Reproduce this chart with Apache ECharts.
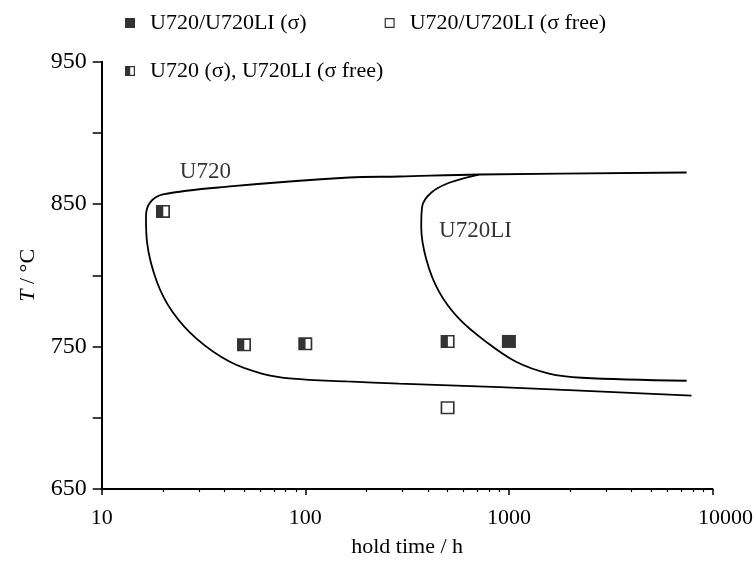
<!DOCTYPE html>
<html>
<head>
<meta charset="utf-8">
<script src="https://cdn.jsdelivr.net/npm/echarts@6/dist/echarts.min.js"></script>
<style>
html,body{margin:0;padding:0;background:#fff;}
#chart{width:756px;height:563px;}
</style>
</head>
<body>
<div id="chart"></div>
<script>
// ---- data ----
const xTickLabels = [10, 100, 1000, 10000];
const xMinorTicks = [20,30,40,50,60,70,80,90,200,300,400,500,600,700,800,900,2000,3000,4000,5000,6000,7000,8000,9000];
const yTickLabels = [650, 750, 850, 950];

// U720 boundary curve (hold time h, temperature C)
const u720Time = [7465, 713, 289, 164, 42.6, 20.0, 17.3, 16.5, 16.7, 18.7, 22.3, 29.3, 42.6, 61.7, 86.5, 160, 289, 900, 7890];
const u720Temp = [872.2, 870.8, 869.4, 868.7, 862.4, 856.8, 851.2, 841.4, 823.2, 795.2, 774.3, 755.4, 739.3, 730.9, 727.5, 725.5, 724.0, 721.5, 715.5];

// U720LI boundary curve
const u720liTime = [713, 509, 415, 375, 371, 393, 455, 570, 773, 1084, 1574, 2282, 7465];
const u720liTemp = [870.8, 865.0, 858.0, 848.3, 834.3, 811.2, 788.2, 769.4, 753.3, 739.3, 731.0, 728.1, 726.0];

// experimental points
const sigmaTime = [1000];
const sigmaTemp = [753.6];
const freeTime = [500];
const freeTemp = [707];
const mixedTime = [20, 50, 100, 500];
const mixedTemp = [844.9, 751.2, 751.9, 753.6];

// curve annotations
const curveLabelNames = ['U720', 'U720LI'];
const curveLabelTime = [24.2, 454];
const curveLabelTemp = [872.6, 831.1];

const legendNames = ['U720/U720LI (σ)', 'U720/U720LI (σ free)', 'U720 (σ), U720LI (σ free)'];

// ---- build ----
const zip = (a, b) => a.map((v, i) => [v, b[i]]);
const FONT = 'Liberation Serif';
const filledPath = 'path://M0,0H100V100H0Z';
const openPath = 'path://M0,0H100V100H0Z M12,12V88H88V12Z';
const halfPath = 'path://M0,0H100V100H0Z M52,12V88H88V12Z';

const chart = echarts.init(document.getElementById('chart'));
const legendText = { fontFamily: FONT, fontSize: 22, color: '#000' };
const option = {
  animation: false,
  backgroundColor: '#fff',
  textStyle: { fontFamily: FONT, color: '#000' },
  grid: { left: 101.7, right: 42, top: 61.7, bottom: 72.3, containLabel: false },
  legend: [
    {
      data: [{ name: legendNames[0], icon: filledPath }, { name: legendNames[1], icon: openPath }],
      left: 125, top: 12, padding: 0, itemWidth: 30, itemHeight: 10, itemGap: 78, symbolKeepAspect: true,
      textStyle: legendText, selectedMode: false
    },
    {
      data: [{ name: legendNames[2], icon: halfPath }],
      left: 125, top: 60, padding: 0, itemWidth: 30, itemHeight: 10, symbolKeepAspect: true,
      textStyle: legendText, selectedMode: false
    }
  ],
  xAxis: [
    {
      type: 'log', logBase: 10, min: 10, max: 10000,
      name: 'hold time / h', nameLocation: 'middle', nameGap: 47,
      nameTextStyle: { fontFamily: FONT, fontSize: 22, color: '#000' },
      axisLine: { show: true, lineStyle: { color: '#000', width: 2 } },
      axisTick: { show: true, inside: false, length: 6, lineStyle: { color: '#000', width: 1.5 } },
      axisLabel: { fontFamily: FONT, fontSize: 22, color: '#000', margin: 18,
        customValues: xTickLabels,
        formatter: v => { const s = String(Math.round(v)); return s === '10000' ? '{r|' + s + '}' : s; },
        rich: { r: { fontFamily: FONT, fontSize: 22, color: '#000', padding: [0, 0, 0, 26] } } },
      splitLine: { show: false }
    },
    {
      type: 'log', logBase: 10, min: 10, max: 10000, position: 'bottom',
      axisLine: { show: false },
      axisTick: { show: true, inside: false, length: 3, customValues: xMinorTicks, lineStyle: { color: '#000', width: 1.2 } },
      axisLabel: { show: false },
      splitLine: { show: false }
    }
  ],
  yAxis: {
    type: 'value', min: 650, max: 950, interval: 50,
    name: '{i|T} / °C', nameLocation: 'middle', nameGap: 62, nameRotate: 90,
    nameTextStyle: { fontFamily: FONT, fontSize: 22, color: '#000',
      rich: { i: { fontFamily: FONT, fontSize: 22, fontStyle: 'italic', color: '#000' } } },
    axisLine: { show: true, lineStyle: { color: '#000', width: 2 } },
    axisTick: { show: true, inside: false, length: 9, lineStyle: { color: '#000', width: 1.5 } },
    axisLabel: { fontFamily: FONT, fontSize: 24, color: '#000', margin: 15,
      formatter: v => (yTickLabels.indexOf(v) >= 0 ? String(v) : '') },
    splitLine: { show: false }
  },
  series: [
    { name: 'U720 curve', type: 'line', data: zip(u720Time, u720Temp), smooth: 0.35, showSymbol: false,
      lineStyle: { color: '#000', width: 1.8 }, silent: true },
    { name: 'U720LI curve', type: 'line', data: zip(u720liTime, u720liTemp), smooth: 0.35, showSymbol: false,
      lineStyle: { color: '#000', width: 1.8 }, silent: true },
    { name: legendNames[0], type: 'scatter', data: zip(sigmaTime, sigmaTemp), symbol: filledPath,
      symbolSize: [14, 13], itemStyle: { color: '#000' }, silent: true },
    { name: legendNames[1], type: 'scatter', data: zip(freeTime, freeTemp), symbol: openPath,
      symbolSize: [14, 13], itemStyle: { color: '#000' }, silent: true },
    { name: legendNames[2], type: 'scatter', data: zip(mixedTime, mixedTemp), symbol: halfPath,
      symbolSize: [14, 13], itemStyle: { color: '#000' }, silent: true },
    { name: 'labels', type: 'scatter', symbolSize: 0, silent: true,
      data: curveLabelNames.map((n, i) => ({ name: n, value: [curveLabelTime[i], curveLabelTemp[i]] })),
      label: { show: true, position: 'right', distance: 0, formatter: p => p.name,
        fontFamily: FONT, fontSize: 23, color: '#000' } }
  ]
};
chart.setOption(option);
</script>
</body>
</html>
